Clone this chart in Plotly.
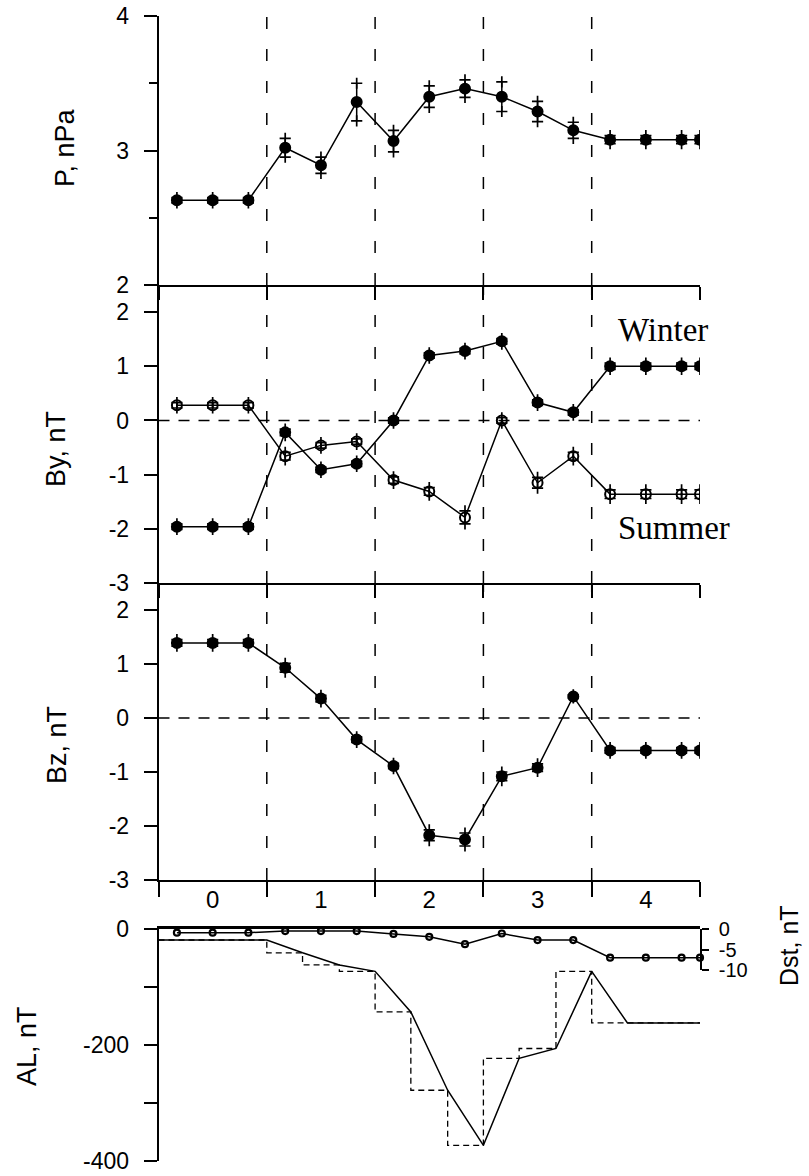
import plotly.graph_objects as go

# ---------------- data ----------------
x_times = [0.17, 0.5, 0.83, 1.17, 1.5, 1.83, 2.17, 2.5, 2.83, 3.17, 3.5, 3.83, 4.17, 4.5, 4.83, 5.0]

P_mean = [2.63, 2.63, 2.63, 3.02, 2.89, 3.36, 3.07, 3.40, 3.46, 3.40, 3.29, 3.15, 3.08, 3.08, 3.08, 3.08]
P_err = [0.02, 0.02, 0.02, 0.07, 0.06, 0.14, 0.08, 0.08, 0.065, 0.11, 0.075, 0.06, 0.03, 0.03, 0.03, 0.03]

By_winter = [-1.96, -1.96, -1.96, -0.22, -0.91, -0.80, 0.0, 1.20, 1.28, 1.46, 0.33, 0.15, 1.0, 1.0, 1.0, 1.0]
By_winter_err = [0.05, 0.05, 0.05, 0.06, 0.05, 0.05, 0.05, 0.05, 0.05, 0.05, 0.05, 0.05, 0.06, 0.06, 0.06, 0.06]
By_summer = [0.28, 0.28, 0.28, -0.66, -0.46, -0.39, -1.10, -1.31, -1.79, 0.0, -1.15, -0.66, -1.36, -1.36, -1.36, -1.36]
By_summer_err = [0.05, 0.05, 0.05, 0.07, 0.05, 0.05, 0.06, 0.07, 0.12, 0.05, 0.10, 0.07, 0.08, 0.08, 0.08, 0.08]

Bz_mean = [1.39, 1.39, 1.39, 0.93, 0.36, -0.40, -0.89, -2.17, -2.25, -1.08, -0.92, 0.40, -0.60, -0.60, -0.60, -0.60]
Bz_err = [0.06, 0.06, 0.06, 0.08, 0.06, 0.05, 0.05, 0.10, 0.12, 0.08, 0.07, 0.03, 0.05, 0.05, 0.05, 0.05]

Dst = [-0.9, -0.9, -0.9, -0.5, -0.5, -0.5, -1.2, -1.9, -3.7, -1.1, -2.7, -2.7, -7.0, -7.0, -7.0, -7.0]

AL_edges = [0, 0.33, 0.67, 1, 1.33, 1.67, 2, 2.33, 2.67, 3, 3.33, 3.67, 4, 4.33, 4.67, 5]
AL_values = [-19, -19, -19, -41, -62, -73, -143, -278, -373, -223, -206, -73, -162, -162, -162]

hour_ticks = [0, 1, 2, 3, 4, 5]
hour_label_pos = [0.5, 1.5, 2.5, 3.5, 4.5]
hour_labels = ["0", "1", "2", "3", "4"]

P_ticks = [2, 3, 4]
B_ticks = [-3, -2, -1, 0, 1, 2]
B_ticklabels = ["-3", "-2", "-1", "0", "1", "2"]
AL_ticks = [-400, -300, -200, -100, 0]
AL_ticklabels = ["-400", "", "-200", "", "0"]
Dst_ticks = [-10, -5, 0]
Dst_ticklabels = ["-10", "-5", "0"]

# ---------------- layout geometry ----------------
W, H = 809, 1176
XD = [158.5 / W, 700 / W]
def ydom(top_px, bot_px):
    return [1 - bot_px / H, 1 - top_px / H]

D_P = ydom(16, 285)
D_BY = ydom(285, 583)
D_BZ = ydom(583, 880)
D_AL = ydom(929, 1161)
D_DST = ydom(929, 970)

FONT = "Liberation Sans, Arial, sans-serif"
TICKFONT = dict(family=FONT, size=23, color="black")
LW = 1.5

fig = go.Figure()

def add_series(xa, ya, y, err, symbol):
    fig.add_trace(go.Scatter(
        x=x_times, y=y, mode="lines+markers", xaxis=xa, yaxis=ya,
        line=dict(color="black", width=1.5),
        marker=dict(symbol=symbol, size=10, color="black",
                    line=dict(color="black", width=2)),
        error_y=dict(type="data", array=err, visible=True, width=0,
                     thickness=1.5, color="black"),
        showlegend=False, hoverinfo="skip"))
    ends = [v + e for v, e in zip(y, err)] + [v - e for v, e in zip(y, err)]
    fig.add_trace(go.Scatter(
        x=x_times + x_times, y=ends, mode="markers", xaxis=xa, yaxis=ya,
        marker=dict(symbol="cross-thin", size=8, color="black",
                    line=dict(color="black", width=1.7)),
        showlegend=False, hoverinfo="skip"))

add_series("x", "y", P_mean, P_err, "circle")
add_series("x2", "y2", By_winter, By_winter_err, "circle")
add_series("x2", "y2", By_summer, By_summer_err, "circle-open")
add_series("x3", "y3", Bz_mean, Bz_err, "circle")

# AL: solid line through interval ends, dashed step
fig.add_trace(go.Scatter(
    x=AL_edges, y=[AL_values[0]] + AL_values, mode="lines", xaxis="x4", yaxis="y4",
    line=dict(color="black", width=1.5), showlegend=False, hoverinfo="skip"))
fig.add_trace(go.Scatter(
    x=AL_edges, y=AL_values + [AL_values[-1]], mode="lines", xaxis="x4", yaxis="y4",
    line=dict(color="black", width=1.3, dash="6px,4px", shape="hv"),
    showlegend=False, hoverinfo="skip"))

# Dst
fig.add_trace(go.Scatter(
    x=x_times, y=Dst, mode="lines+markers", xaxis="x4", yaxis="y5",
    line=dict(color="black", width=1.5),
    marker=dict(symbol="circle-open", size=6, color="black", line=dict(width=2.2)),
    showlegend=False, hoverinfo="skip", cliponaxis=False))

common_x = dict(domain=XD, range=[0, 5], showgrid=False, zeroline=False, automargin=False,
                showline=True, linecolor="black", linewidth=LW)
common_y = dict(showgrid=False, zeroline=False, showline=True, linecolor="black",
                linewidth=LW, ticks="outside", ticklen=13, tickwidth=LW, automargin=False,
                tickcolor="black", tickfont=TICKFONT, ticklabelstandoff=10)

fig.update_layout(
    template="none",
    width=W, height=H, margin=dict(l=0, r=0, t=0, b=0, pad=0, autoexpand=False),
    paper_bgcolor="white", plot_bgcolor="rgba(0,0,0,0)",
    font=dict(family=FONT, color="black"),
    xaxis=dict(**common_x, anchor="y", tickvals=hour_ticks, ticks="outside",
               ticklen=13, tickwidth=LW, tickcolor="black", showticklabels=False),
    yaxis=dict(**common_y, domain=D_P, anchor="x", range=[2, 4], tickvals=P_ticks,
               minor=dict(tickvals=[2.5, 3.5], ticks="outside", ticklen=8,
                          tickwidth=LW, tickcolor="black")),
    xaxis2=dict(**common_x, anchor="y2", tickvals=hour_ticks, ticks="outside",
                ticklen=13, tickwidth=LW, tickcolor="black", showticklabels=False),
    yaxis2=dict(**common_y, domain=D_BY, anchor="x2", range=[-3, 2.5],
                tickvals=B_ticks, ticktext=B_ticklabels),
    xaxis3=dict(**common_x, anchor="y3", tickvals=hour_label_pos, ticktext=hour_labels,
                ticks="", tickfont=dict(family=FONT, size=24, color="black"),
                ticklabelstandoff=-3,
                minor=dict(tickvals=hour_ticks, ticks="outside", ticklen=15,
                           tickwidth=LW, tickcolor="black")),
    yaxis3=dict(**common_y, domain=D_BZ, anchor="x3", range=[-3, 2.5],
                tickvals=B_ticks, ticktext=B_ticklabels),
    xaxis4=dict(domain=XD, range=[0, 5], anchor="y4", side="top", showgrid=False,
                zeroline=False, showline=True, linecolor="black", linewidth=2.5,
                ticks="", showticklabels=False, automargin=False),
    yaxis4=dict(**common_y, domain=D_AL, anchor="x4", range=[-400, 0],
                tickvals=AL_ticks, ticktext=AL_ticklabels),
    yaxis5=dict(showgrid=False, zeroline=False, showline=True, linecolor="black",
                linewidth=LW, ticks="outside", ticklen=7, tickwidth=LW, automargin=False,
                tickcolor="black", tickfont=dict(family=FONT, size=20, color="black"),
                ticklabelstandoff=6,
                domain=D_DST, anchor="x4", side="right", range=[-10, 0],
                tickvals=Dst_ticks, ticktext=Dst_ticklabels),
)

# dashed vertical separators and zero lines
for xv in [1, 2, 3, 4]:
    for yr, top in [("y domain", 1.012), ("y2 domain", 1.0), ("y3 domain", 1.0)]:
        fig.add_shape(type="line", xref="x", yref=yr, x0=xv, x1=xv, y0=0, y1=top,
                      line=dict(color="black", width=1.5, dash="12px,20px"))
for xr, yr in [("x2 domain", "y2"), ("x3 domain", "y3")]:
    fig.add_shape(type="line", xref=xr, yref=yr, x0=0, x1=1, y0=0, y1=0,
                  line=dict(color="black", width=1.5, dash="11px,9px"))

# axis titles
for txt, px, py, fs in [("P, nPa", 65, 148, 27), ("By, nT", 56, 449, 27),
                        ("Bz, nT", 57, 745, 27), ("AL, nT", 27, 1046, 27),
                        ("Dst, nT", 789, 946, 25)]:
    fig.add_annotation(text=txt, x=px / W, y=1 - py / H, xref="paper", yref="paper",
                       showarrow=False, textangle=-90,
                       font=dict(family=FONT, size=fs, color="black"),
                       xanchor="center", yanchor="middle")

SERIF = dict(family="Liberation Serif, Times New Roman, serif", size=33, color="black")
fig.add_annotation(text="Winter", x=663 / W, y=1 - 330 / H, xref="paper", yref="paper",
                   showarrow=False, font=SERIF, xanchor="center", yanchor="middle")
fig.add_annotation(text="Summer", x=674 / W, y=1 - 528 / H, xref="paper", yref="paper",
                   showarrow=False, font=SERIF, xanchor="center", yanchor="middle")

fig.write_html("out.html", config={"displayModeBar": False},
               post_script="document.body.style.margin='0px';"
                           "document.body.style.overflow='hidden';")
